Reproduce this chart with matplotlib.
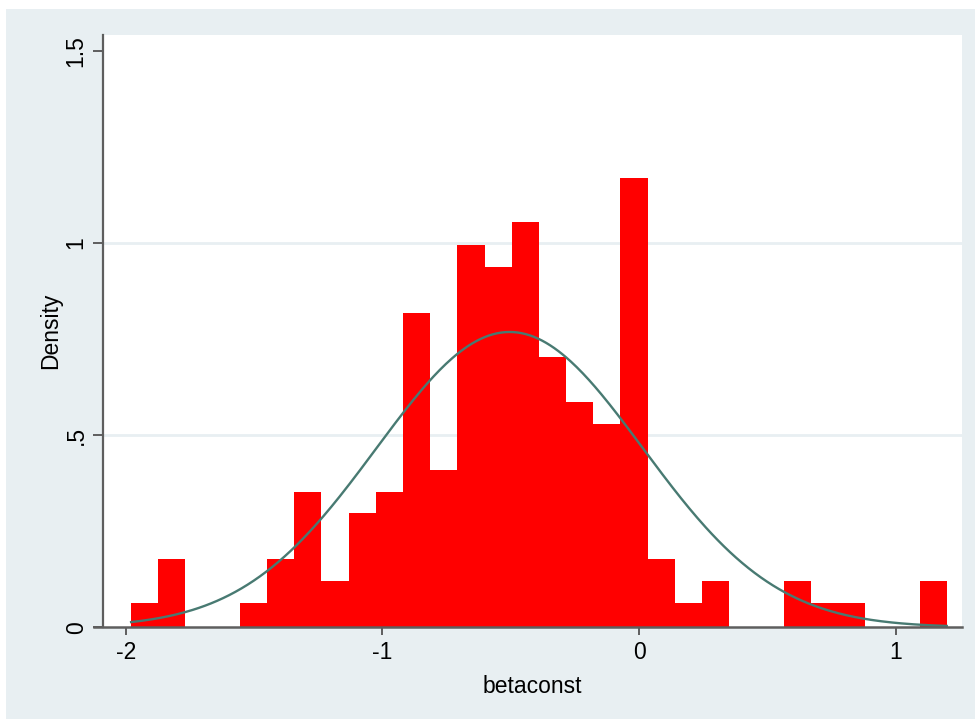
import numpy as np
import matplotlib
matplotlib.use("Agg")
import matplotlib.pyplot as plt
from matplotlib.patches import Rectangle
from matplotlib.lines import Line2D

# ---- data ----
bin_min = -1.979
bin_max = 1.199
n_bins = 30
densities = [0.062, 0.177, 0.0, 0.0, 0.062, 0.177, 0.353, 0.12, 0.297, 0.353,
             0.818, 0.41, 0.995, 0.938, 1.056, 0.704, 0.586, 0.529, 1.170, 0.177,
             0.062, 0.12, 0.0, 0.0, 0.12, 0.062, 0.062, 0.0, 0.0, 0.12]
normal_mean = -0.504
normal_sd = 0.519
x_ticks = [-2, -1, 0, 1]
x_ticklabels = ["-2", "-1", "0", "1"]
y_ticks = [0, 0.5, 1, 1.5]
y_ticklabels = ["0", ".5", "1", "1.5"]
x_label = "betaconst"
y_label = "Density"

# ---- style ----
plt.rcParams['font.family'] = ['Liberation Sans', 'DejaVu Sans']
bg = '#E8EFF2'
axis_col = '#5E5E5E'
bar_col = '#FF0000'
curve_col = '#487A72'

fig = plt.figure(figsize=(9.75, 7.19), dpi=100)
fig.patch.set_facecolor('white')
fig.patches.append(Rectangle((6 / 975, 0), 1 - 6 / 975, 1 - 9 / 719,
                             transform=fig.transFigure, facecolor=bg,
                             edgecolor='none', zorder=-10))

ax = fig.add_axes([103 / 975, (719 - 627.3) / 719, (961.5 - 103) / 975, (627.3 - 35) / 719])
ax.set_facecolor('white')

edges = np.linspace(bin_min, bin_max, n_bins + 1)
ax.bar(edges[:-1], densities, width=np.diff(edges), align='edge',
       color=bar_col, linewidth=0, zorder=2)

xs = np.linspace(bin_min, bin_max, 400)
ys = np.exp(-0.5 * ((xs - normal_mean) / normal_sd) ** 2) / (normal_sd * np.sqrt(2 * np.pi))
ax.plot(xs, ys, color=curve_col, lw=1.7, zorder=3)

ax.set_xlim(-2.0885, 1.2566)
ax.set_ylim(0, 1.5417)

# grid at interior y ticks
for yv in y_ticks[1:-1]:
    ax.axhline(yv, color=bg, lw=2.0, zorder=1)

ax.set_xticks(x_ticks)
ax.set_xticklabels(x_ticklabels)
ax.set_yticks(y_ticks)
ax.set_yticklabels(y_ticklabels, rotation=90, va='center')

for s in ['top', 'right', 'bottom']:
    ax.spines[s].set_visible(False)
ax.spines['left'].set_color(axis_col)
ax.spines['left'].set_linewidth(1.6)
ax.add_line(Line2D([-0.011, 1.0], [0, 0], transform=ax.transAxes, color=axis_col,
                   lw=1.8, clip_on=False, zorder=5))

ax.tick_params(axis='x', length=6, width=1.4, color=axis_col, labelsize=16.5, pad=4)
ax.tick_params(axis='y', length=7, width=1.4, color=axis_col, labelsize=16.5, pad=4)

ax.set_xlabel(x_label, fontsize=16.5, labelpad=8)
ax.set_ylabel(y_label, fontsize=16.5, labelpad=2)

fig.savefig("out.png", dpi=100, facecolor=fig.get_facecolor())
